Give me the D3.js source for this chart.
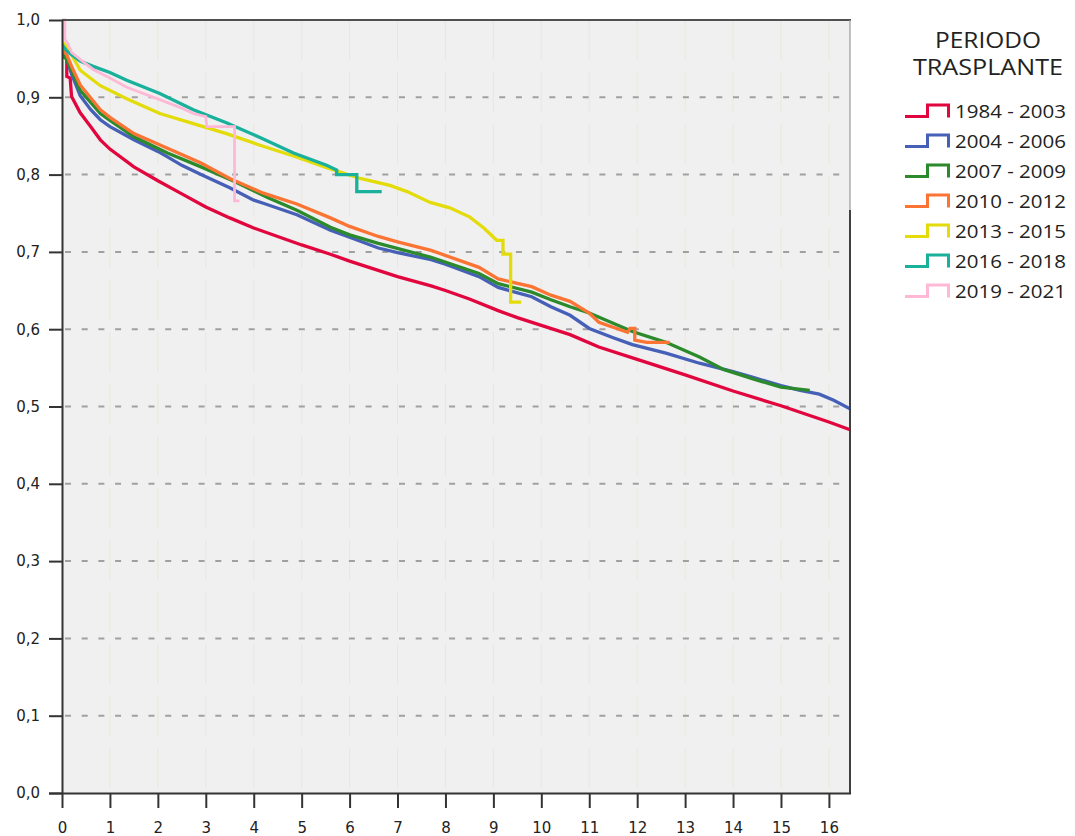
<!DOCTYPE html>
<html><head><meta charset="utf-8">
<script src="https://cdn.jsdelivr.net/npm/d3@7"></script>
<style>body{margin:0;background:#fff;} svg{display:block;}</style>
</head><body>
<svg id="chart" width="1075" height="836"></svg>
<script>
// ---- data ----
const legendTitle = ["PERIODO", "TRASPLANTE"];
const periods = ["1984 - 2003", "2004 - 2006", "2007 - 2009", "2010 - 2012", "2013 - 2015", "2016 - 2018", "2019 - 2021"];
const colors = ["#e2063f", "#4660b8", "#2b8a2b", "#fb7434", "#e3dc0a", "#19b09c", "#ffb9d6"];
const xTicks = [0,1,2,3,4,5,6,7,8,9,10,11,12,13,14,15,16];
const yTicks = [0,0.1,0.2,0.3,0.4,0.5,0.6,0.7,0.8,0.9,1.0];
const yTickLabels = ["0,0","0,1","0,2","0,3","0,4","0,5","0,6","0,7","0,8","0,9","1,0"];

// [years, cumulative survival]
const s1984_2003 = [[0,0.952],[0.1,0.952],[0.1,0.927],[0.17,0.925],[0.2,0.901],[0.38,0.880],[0.6,0.862],[0.8,0.845],[1.0,0.833],[1.5,0.810],[2.0,0.792],[2.5,0.775],[3.0,0.758],[3.5,0.744],[4.0,0.731],[4.5,0.720],[5.0,0.709],[5.6,0.697],[6.0,0.688],[6.5,0.678],[7.0,0.668],[7.7,0.656],[8.0,0.650],[8.5,0.639],[9.1,0.624],[9.5,0.615],[10.0,0.605],[10.6,0.593],[11.2,0.577],[12.0,0.561],[13.0,0.541],[14.0,0.520],[15.0,0.501],[16.0,0.480],[16.44,0.470]];
const s2004_2006 = [[0,0.962],[0.1,0.950],[0.2,0.930],[0.38,0.902],[0.6,0.884],[0.8,0.871],[1.0,0.862],[1.5,0.845],[2.0,0.830],[2.2,0.823],[2.5,0.812],[2.9,0.800],[3.5,0.783],[4.0,0.767],[4.2,0.763],[4.9,0.748],[5.6,0.728],[6.0,0.719],[6.6,0.705],[7.0,0.699],[7.7,0.690],[8.0,0.684],[8.7,0.668],[9.1,0.654],[9.8,0.642],[10.2,0.629],[10.6,0.618],[11.0,0.601],[11.5,0.589],[11.9,0.580],[12.6,0.569],[13.3,0.556],[14.0,0.545],[14.4,0.538],[15.0,0.527],[15.4,0.521],[15.8,0.516],[16.1,0.508],[16.44,0.497]];
const s2007_2009 = [[0,0.958],[0.1,0.948],[0.2,0.935],[0.38,0.909],[0.8,0.879],[1.0,0.870],[1.5,0.849],[2.2,0.828],[2.9,0.810],[3.6,0.791],[4.3,0.770],[4.9,0.754],[5.6,0.732],[6.0,0.722],[6.6,0.711],[7.7,0.693],[8.7,0.672],[9.1,0.659],[9.8,0.648],[10.2,0.638],[10.6,0.629],[11.0,0.621],[11.9,0.597],[12.6,0.583],[13.3,0.564],[13.8,0.548],[14.4,0.536],[15.0,0.525],[15.6,0.521]];
const s2010_2012 = [[0,0.962],[0.1,0.955],[0.2,0.940],[0.38,0.916],[0.8,0.884],[1.0,0.874],[1.5,0.853],[2.2,0.834],[2.9,0.815],[3.5,0.795],[4.2,0.776],[4.9,0.762],[5.6,0.744],[6.0,0.733],[6.6,0.720],[7.0,0.713],[7.7,0.702],[8.7,0.680],[9.1,0.665],[9.8,0.655],[10.2,0.644],[10.6,0.636],[11.0,0.621],[11.2,0.609],[11.8,0.596],[11.85,0.601],[11.95,0.601],[11.95,0.586],[12.2,0.583],[12.68,0.583]];
const s2013_2015 = [[0,0.972],[0.1,0.965],[0.2,0.955],[0.38,0.935],[0.65,0.922],[0.8,0.915],[1.35,0.898],[2.04,0.879],[2.74,0.866],[3.43,0.853],[4.13,0.838],[4.83,0.824],[5.52,0.809],[6.22,0.795],[6.84,0.786],[7.2,0.778],[7.68,0.764],[8.09,0.757],[8.51,0.745],[8.8,0.731],[9.07,0.715],[9.2,0.715],[9.2,0.697],[9.36,0.697],[9.36,0.635],[9.58,0.635]];
const s2016_2018 = [[0,0.968],[0.1,0.960],[0.2,0.955],[0.38,0.947],[0.65,0.940],[1.0,0.932],[1.35,0.922],[2.04,0.905],[2.74,0.884],[3.43,0.867],[4.13,0.848],[4.83,0.828],[5.52,0.812],[5.73,0.806],[5.73,0.800],[6.15,0.800],[6.15,0.778],[6.67,0.778]];
const s2019_2021 = [[0,1.0],[0.06,1.0],[0.06,0.975],[0.12,0.970],[0.2,0.958],[0.4,0.948],[0.65,0.936],[1.0,0.925],[1.35,0.913],[2.04,0.897],[2.5,0.886],[2.74,0.879],[3.0,0.875],[3.02,0.862],[3.6,0.862],[3.6,0.766],[3.7,0.766]];
const allSeries = [s1984_2003, s2004_2006, s2007_2009, s2010_2012, s2013_2015, s2016_2018, s2019_2021];

// ---- layout ----
const L = 62, R = 850, T = 20, B = 793;
const svg = d3.select("#chart");
const x = d3.scaleLinear().domain([0, 16.44]).range([L, R]);
const y = d3.scaleLinear().domain([0, 1]).range([B, T]);

svg.append("rect").attr("x", L).attr("y", T).attr("width", R - L).attr("height", B - T).attr("fill", "#f0f0f0");

svg.append("defs").append("clipPath").attr("id", "clip")
  .append("rect").attr("x", L).attr("y", T - 2).attr("width", R - L).attr("height", B - T + 2);

// faint vertical lines
svg.append("g").selectAll("line").data(xTicks.filter(d => d > 0)).join("line")
  .attr("x1", d => x(d)).attr("x2", d => x(d)).attr("y1", T).attr("y2", B)
  .attr("stroke", "#ece7d6").attr("stroke-width", 1).attr("stroke-dasharray", "40,12");

// dashed horizontal grid
svg.append("g").selectAll("line").data(yTicks.filter(d => d > 0 && d < 1)).join("line")
  .attr("x1", L + 3).attr("x2", R).attr("y1", d => y(d)).attr("y2", d => y(d))
  .attr("stroke", "#a0a0a0").attr("stroke-width", 2).attr("stroke-dasharray", "6,10.7");

// curves
const line = d3.line().x(d => x(d[0])).y(d => y(d[1])).curve(d3.curveLinear);
svg.append("g").attr("clip-path", "url(#clip)").selectAll("path").data(allSeries).join("path")
  .attr("d", line).attr("fill", "none")
  .attr("stroke", (d, i) => colors[i]).attr("stroke-width", (d, i) => i === 6 ? 2.8 : 3.3)
  .attr("stroke-linejoin", "miter");

// frame
svg.append("line").attr("x1", L).attr("x2", R + 1).attr("y1", T).attr("y2", T).attr("stroke", "#505050").attr("stroke-width", 2);
svg.append("line").attr("x1", R).attr("x2", R).attr("y1", T).attr("y2", 210).attr("stroke", "#9a9a9a").attr("stroke-width", 1.2);
svg.append("line").attr("x1", R).attr("x2", R).attr("y1", 210).attr("y2", B).attr("stroke", "#404040").attr("stroke-width", 2);

// axes
const yAxis = d3.axisLeft(y).tickValues(yTicks).tickFormat((d, i) => yTickLabels[i]).tickSize(13).tickPadding(9);
const gy = svg.append("g").attr("transform", `translate(${L},0)`).call(yAxis);
const xAxis = d3.axisBottom(x).tickValues(xTicks).tickFormat(d => String(d)).tickSize(15).tickPadding(14);
const gx = svg.append("g").attr("transform", `translate(0,${B})`).call(xAxis);
[gy, gx].forEach(g => {
  g.select(".domain").attr("stroke", "#333").attr("stroke-width", 2);
  g.selectAll(".tick line").attr("stroke", "#333").attr("stroke-width", 2);
  g.selectAll("text").attr("font-family", "DejaVu Sans").attr("font-size", 15).attr("fill", "#222");
});
gx.select(".domain").attr("d", `M${L - 13},0.5H${R + 1}`);
gy.select(".domain").attr("d", `M0.5,${T}V${B}`);

// legend
const lg = svg.append("g");
lg.selectAll("text.title").data(legendTitle).join("text").attr("class", "title")
  .attr("x", 988).attr("y", (d, i) => 48 + i * 27).attr("text-anchor", "middle")
  .attr("font-family", "Open Sans").attr("font-size", 21).attr("fill", "#222")
  .attr("textLength", (d, i) => i === 0 ? 106 : 150).attr("lengthAdjust", "spacingAndGlyphs")
  .text(d => d);
const rows = lg.selectAll("g.row").data(periods).join("g").attr("class", "row")
  .attr("transform", (d, i) => `translate(0,${i * 30})`);
rows.append("path").attr("d", "M905,116.5H927.5V105H948.5V117.5").attr("fill", "none")
  .attr("stroke", (d, i) => colors[i]).attr("stroke-width", 3);
rows.append("text").attr("x", 955).attr("y", 118).attr("font-family", "Open Sans").attr("font-size", 19)
  .attr("fill", "#222").attr("textLength", 111).attr("lengthAdjust", "spacingAndGlyphs").text(d => d);
</script>
</body></html>
